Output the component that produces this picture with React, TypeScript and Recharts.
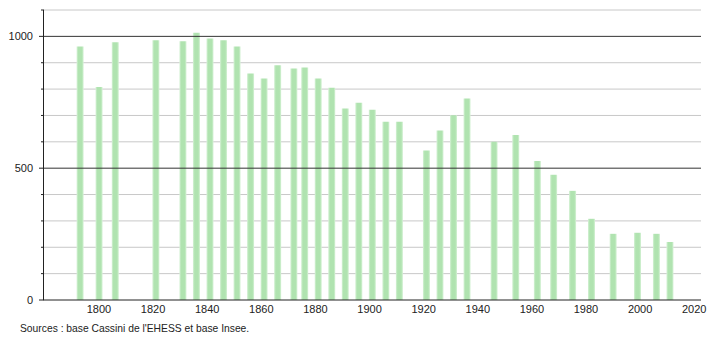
import { BarChart, Bar, XAxis, YAxis, CartesianGrid, ReferenceLine } from "recharts";

const years = [
  1793, 1800, 1806, 1821, 1831, 1836, 1841, 1846, 1851, 1856, 1861, 1866, 1872, 1876, 1881, 1886, 1891, 1896,
  1901, 1906, 1911, 1921, 1926, 1931, 1936, 1946, 1954, 1962, 1968, 1975, 1982, 1990, 1999, 2006, 2011,
];
const population = [
  962, 808, 978, 985, 981, 1014, 992, 985, 962, 859, 840, 890, 878, 882, 840, 805, 726, 748,
  722, 676, 676, 567, 643, 701, 764, 600, 626, 527, 475, 414, 308, 251, 255, 251, 220,
];
const xTicks = [1800, 1820, 1840, 1860, 1880, 1900, 1920, 1940, 1960, 1980, 2000, 2020];
const yTicks = [0, 100, 200, 300, 400, 500, 600, 700, 800, 900, 1000, 1100];
const yLabels = [0, 500, 1000];
const minorGrid = [100, 200, 300, 400, 600, 700, 800, 900, 1100];

const data = years.map((year, i) => ({ year, value: population[i] }));

const font = "'Liberation Sans', Arial, sans-serif";

function YTick(props: any) {
  const { y, payload } = props;
  const major = yLabels.includes(payload.value);
  return (
    <g>
      <line x1={major ? 39 : 41} x2={44} y1={y} y2={y} stroke="#222" strokeWidth={1} />
      {major && (
        <text x={33} y={y} dy={4} textAnchor="end" fontSize={11} fill="#222" fontFamily={font}>
          {payload.value}
        </text>
      )}
    </g>
  );
}

export default function App() {
  return (
    <div style={{ position: "absolute", left: 0, top: 0, width: 710, height: 340, background: "#fff" }}>
      <BarChart width={710} height={320} data={data} margin={{ top: 10, right: 9, left: 0, bottom: 0 }}>
        <defs>
          <linearGradient id="barFill" x1="0" y1="0" x2="1" y2="0">
            <stop offset="0%" stopColor="#d6f2d6" />
            <stop offset="25%" stopColor="#b0e3b0" />
            <stop offset="75%" stopColor="#b0e3b0" />
            <stop offset="100%" stopColor="#d6f2d6" />
          </linearGradient>
        </defs>
        <CartesianGrid vertical={false} horizontalValues={minorGrid} stroke="#c8c8c8" />
        <ReferenceLine y={500} stroke="#333" />
        <ReferenceLine y={1000} stroke="#333" />
        <XAxis
          dataKey="year"
          type="number"
          domain={[1779.5, 2022.5]}
          ticks={xTicks}
          tickLine={false}
          axisLine={{ stroke: "#222" }}
          height={20}
          tick={{ fontSize: 11, fill: "#222", fontFamily: font }}
          tickMargin={-1}
          allowDataOverflow
        />
        <YAxis
          type="number"
          domain={[0, 1100]}
          ticks={yTicks}
          width={43.5}
          tickLine={false}
          axisLine={{ stroke: "#222" }}
          tick={<YTick />}
          interval={0}
        />
        <Bar dataKey="value" fill="url(#barFill)" barSize={7} isAnimationActive={false} />
      </BarChart>
      <div
        style={{
          position: "absolute",
          left: 20,
          top: 323,
          fontSize: 10.3,
          color: "#222",
          fontFamily: font,
        }}
      >
        Sources : base Cassini de l'EHESS et base Insee.
      </div>
    </div>
  );
}
